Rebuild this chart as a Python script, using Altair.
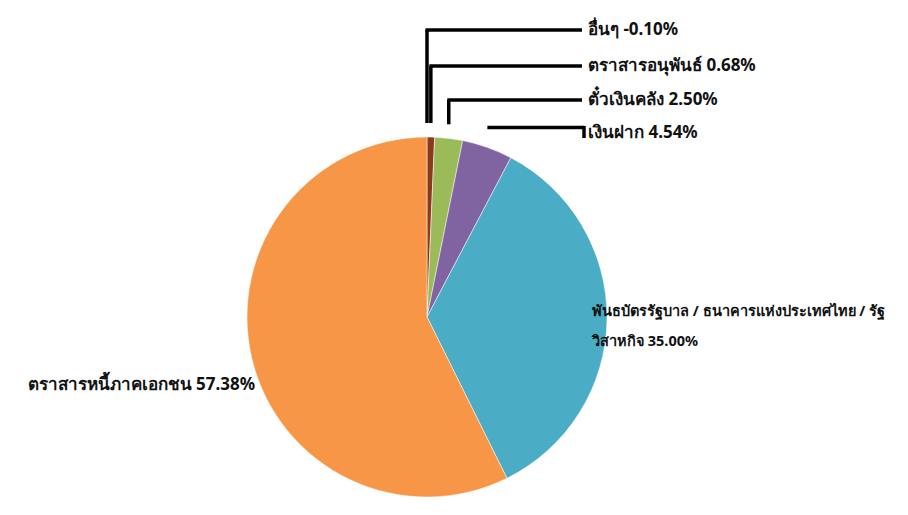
import math
import altair as alt
import pandas as pd

# ---- data ----
names = [
    "อื่นๆ",
    "ตราสารอนุพันธ์",
    "ตั๋วเงินคลัง",
    "เงินฝาก",
    "พันธบัตรรัฐบาล / ธนาคารแห่งประเทศไทย / รัฐวิสาหกิจ",
    "ตราสารหนี้ภาคเอกชน",
]
values = [-0.10, 0.68, 2.50, 4.54, 35.00, 57.38]
colors = ["#E0623A", "#8B3A1E", "#9BBB59", "#8064A2", "#4BACC6", "#F79646"]

# ---- layout (styles, not data) ----
W, H = 892, 499
CX, CY, R = 419, 309, 180
FONT = "Noto Sans"
FS = 17
GAP = 14
LINE_END_X = 574
TEXT_X = 580
small_label_y = [22, 58, 92, 125]

pos = [max(v, 0) for v in values]
total = sum(pos)

df = pd.DataFrame({
    "name": names,
    "value": values,
    "pos": pos,
    "idx": list(range(len(names))),
})
df["label"] = [f"{n} {v:.2f}%" for n, v in zip(names, values)]

# mid-angle of each slice (clockwise from 12 o'clock)
cum = 0.0
mids = []
for p in pos:
    mids.append((cum + p / 2) / total * 2 * math.pi)
    cum += p
df["ex"] = [CX + R * math.sin(a) for a in mids]
df["ey"] = [CY - R * math.cos(a) for a in mids]

color_scale = alt.Scale(domain=names, range=colors)

pie = alt.Chart(df).mark_arc(outerRadius=R, stroke="white", strokeWidth=0.5).encode(
    theta=alt.Theta("pos:Q", stack=True),
    color=alt.Color("name:N", scale=color_scale, legend=None),
    order=alt.Order("idx:Q"),
    x=alt.value(CX),
    y=alt.value(CY),
)

# leader segments computed from slice angles
segs = []
for i in range(4):
    ex, ey = df.loc[i, "ex"], df.loc[i, "ey"]
    ly = small_label_y[i]
    if i < 3:
        top = ey - GAP
        segs.append({"x": ex, "y": top, "x2": ex, "y2": ly})
        segs.append({"x": ex - 1.5, "y": ly, "x2": LINE_END_X, "y2": ly})
    else:
        hy = ey - 20
        segs.append({"x": ex, "y": hy, "x2": LINE_END_X + 2, "y2": hy})
        segs.append({"x": LINE_END_X + 2, "y": hy - 1.5, "x2": LINE_END_X + 2, "y2": ly + 5})
seg_df = pd.DataFrame(segs)

leaders = alt.Chart(seg_df).mark_rule(color="black", strokeWidth=3.5).encode(
    x=alt.X("x:Q", scale=None),
    y=alt.Y("y:Q", scale=None),
    x2="x2:Q",
    y2="y2:Q",
)

small_df = df.iloc[:4].copy()
small_df["ty"] = small_label_y
small_df["tx"] = TEXT_X
small_text = alt.Chart(small_df).mark_text(
    align="left", baseline="middle", font=FONT, fontSize=FS, fontWeight="bold", color="#111111"
).encode(
    x=alt.X("tx:Q", scale=None),
    y=alt.Y("ty:Q", scale=None),
    text="label:N",
)

big_df = pd.DataFrame({
    "text": [
        "พันธบัตรรัฐบาล / ธนาคารแห่งประเทศไทย / รัฐ\nวิสาหกิจ " + f"{values[4]:.2f}%",
    ],
    "tx": [584],
    "ty": [304],
})
blue_text = alt.Chart(big_df).mark_text(
    align="left", baseline="middle", font=FONT, fontSize=14.5, fontWeight="bold",
    color="#111111", lineBreak="\n", lineHeight=30,
).encode(
    x=alt.X("tx:Q", scale=None),
    y=alt.Y("ty:Q", scale=None),
    text="text:N",
)

orange_df = pd.DataFrame({"text": [df.loc[5, "label"]], "tx": [247], "ty": [377]})
orange_text = alt.Chart(orange_df).mark_text(
    align="right", baseline="middle", font=FONT, fontSize=FS, fontWeight="bold", color="#111111"
).encode(
    x=alt.X("tx:Q", scale=None),
    y=alt.Y("ty:Q", scale=None),
    text="text:N",
)

chart = alt.layer(pie, leaders, small_text, blue_text, orange_text).properties(
    width=W, height=H, padding=0, autosize=alt.AutoSizeParams(type="none"),
    background="white",
).configure_view(stroke="transparent", strokeWidth=0)

chart.save("out.html", embed_options={"renderer": "svg", "actions": False})
